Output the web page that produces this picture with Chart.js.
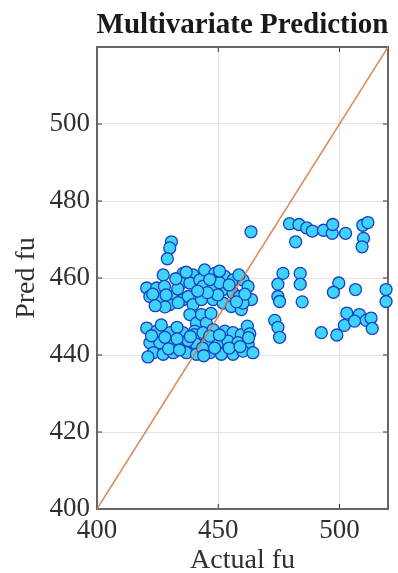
<!DOCTYPE html>
<html>
<head>
<meta charset="utf-8">
<script src="https://cdn.jsdelivr.net/npm/chart.js@4.4.1/dist/chart.umd.min.js"></script>
<style>
  html, body { margin: 0; padding: 0; background: #fff; }
  #wrap { width: 398px; height: 573px; }
</style>
</head>
<body>
<div id="wrap"><canvas id="myChart" width="398" height="573"></canvas></div>
<script>
// actual vs predicted fu
const actualFu = [
  463.5, 479.4, 483.3, 486.5, 488.8, 493.4, 497.0, 497.2, 502.5, 509.6,
  511.7, 509.9, 509.3, 481.9, 476.7, 483.8, 474.6, 483.8, 499.7, 497.5,
  506.6, 519.2, 519.2, 474.6, 475.3, 484.6, 473.3, 474.6, 475.3, 492.5,
  498.9, 503.0, 502.0, 508.2, 511.0, 513.0, 513.5, 506.2,
  430.7, 430.0, 429.0, 427.3, 435.5, 439.6, 420.5, 424.6, 434.8, 438.3,
  442.4, 421.8, 425.9, 430.7, 430.0, 435.5, 437.6, 439.6, 438.3, 441.0,
  440.3, 420.5, 424.6, 430.0, 435.5, 440.3, 421.8, 425.9, 431.4, 436.2,
  441.0, 423.2, 427.3, 431.4, 436.9, 441.0, 444.4, 448.6, 452.7, 456.1,
  460.2, 462.3, 443.7, 447.9, 452.0, 456.1, 458.8, 463.7, 443.1, 447.9,
  452.0, 455.4, 459.5, 460.2, 443.1, 445.1, 443.7, 447.9, 452.7, 456.1,
  459.5, 445.1, 449.9, 454.0, 458.1, 462.3, 446.5, 451.3, 456.1, 460.2,
  464.3, 421.0, 433.3, 427.8, 433.0, 428.0, 447.0, 462.0, 450.5, 437.5,
  463.0,
  432.5, 436.8, 446.5, 450.5, 454.5, 458.5, 461.0, 449.8, 445.5, 423.0,
  428.5, 433.5, 441.5, 457.5, 424.0,
  422.5, 428.0, 433.0, 438.5, 446.5, 450.5, 454.5, 459.0, 429.5, 434.0,
  443.5, 448.5, 426.5, 444.0, 462.5
];
const predFu = [
  472.0, 474.1, 473.9, 473.0, 472.2, 472.4, 471.6, 473.9, 471.6, 473.7,
  474.4, 470.3, 468.1, 469.4, 461.2, 461.2, 458.4, 458.4, 458.7, 456.3,
  457.0, 457.0, 453.9, 455.2, 453.9, 453.8, 449.0, 447.2, 444.6, 445.8,
  445.2, 450.9, 447.7, 450.5, 449.0, 449.6, 446.9, 448.8,
  469.4, 467.8, 465.0, 460.8, 461.2, 460.8, 457.4, 457.4, 458.7, 458.7,
  459.5, 455.2, 454.4, 455.2, 453.1, 454.4, 455.2, 453.1, 450.5, 448.3,
  446.2, 447.0, 446.2, 445.8, 445.8, 445.3, 443.2, 443.2, 442.8, 442.3,
  442.8, 440.6, 440.2, 440.6, 440.6, 440.2, 462.1, 461.2, 460.4, 459.5,
  459.5, 457.8, 457.8, 457.4, 457.0, 456.1, 455.2, 454.4, 454.4, 454.4,
  453.5, 452.6, 451.8, 453.5, 450.5, 448.3, 445.8, 446.6, 446.2, 445.8,
  445.3, 443.2, 443.2, 443.6, 443.2, 442.8, 440.6, 440.2, 440.2, 441.0,
  440.6, 439.5, 457.2, 457.8, 447.2, 452.5, 450.8, 447.5, 458.8, 443.8,
  445.5,
  459.8, 461.5, 459.6, 461.8, 458.2, 460.8, 455.8, 455.6, 456.2, 455.8,
  455.6, 453.6, 456.6, 453.8, 452.8,
  445.0, 444.6, 444.2, 444.8, 444.9, 445.2, 441.8, 442.2, 441.6, 441.3,
  441.8, 441.8, 447.8, 439.8, 444.5
];
const idealLine = [400, 520];
const xTicks = [400, 450, 500];
const yTicks = [400, 420, 440, 460, 480, 500];

const serif = 'Liberation Serif';
const ink = '#303030';

const points = actualFu.map((v, i) => ({ x: v, y: predFu[i] }));

// MATLAB style box, inward ticks and title over the axes
const frame = {
  id: 'frame',
  beforeDatasetsDraw(chart) {
    const { ctx, chartArea: a, scales: { x, y } } = chart;
    ctx.save();
    ctx.strokeStyle = ink;
    ctx.lineWidth = 1;
    ctx.beginPath();
    xTicks.forEach((v) => {
      const px = x.getPixelForValue(v);
      ctx.moveTo(px, a.top); ctx.lineTo(px, a.top + 5);
      ctx.moveTo(px, a.bottom); ctx.lineTo(px, a.bottom - 5);
    });
    yTicks.forEach((v) => {
      const py = y.getPixelForValue(v);
      ctx.moveTo(a.left, py); ctx.lineTo(a.left + 5, py);
      ctx.moveTo(a.right, py); ctx.lineTo(a.right - 5, py);
    });
    ctx.stroke();
    ctx.strokeStyle = '#666';
    ctx.lineWidth = 2;
    ctx.strokeRect(a.left, a.top, a.right - a.left, a.bottom - a.top);

    ctx.fillStyle = '#1a1a1a';
    ctx.font = 'bold 29px ' + serif;
    ctx.textAlign = 'center';
    ctx.textBaseline = 'alphabetic';
    ctx.fillText('Multivariate Prediction', (a.left + a.right) / 2, 33);
    ctx.restore();
  }
};

new Chart(document.getElementById('myChart'), {
  data: {
    datasets: [
      {
        type: 'line',
        data: idealLine.map((v) => ({ x: v, y: v })),
        borderColor: 'rgba(214, 125, 70, 0.9)',
        borderWidth: 1.5,
        pointRadius: 0,
        order: 0,
      },
      {
        type: 'scatter',
        data: points,
        backgroundColor: '#3dd3fb',
        borderColor: '#1a3fc2',
        borderWidth: 1.3,
        pointRadius: 6,
        clip: false,
        order: 1,
      },
    ],
  },
  options: {
    responsive: false,
    animation: false,
    devicePixelRatio: 1,
    layout: { padding: { top: 47, right: 10, left: 0, bottom: 0 } },
    plugins: {
      legend: { display: false },
      tooltip: { enabled: false },
    },
    scales: {
      x: {
        type: 'linear',
        min: 400,
        max: 520,
        afterBuildTicks: (s) => { s.ticks = xTicks.map((v) => ({ value: v })); },
        afterFit: (s) => { s.height = 64; },
        ticks: { font: { family: serif, size: 27 }, color: ink, padding: 6, maxRotation: 0 },
        grid: { color: '#e3e3e3', drawTicks: false },
        border: { display: false },
        title: {
          display: true,
          text: 'Actual fu',
          color: ink,
          font: { family: serif, size: 28, lineHeight: 0.85 },
          padding: 0,
        },
      },
      y: {
        type: 'linear',
        min: 400,
        max: 520,
        afterBuildTicks: (s) => { s.ticks = yTicks.map((v) => ({ value: v })); },
        afterFit: (s) => { s.width = 97; },
        ticks: { font: { family: serif, size: 27 }, color: ink, padding: 7 },
        grid: { color: '#e3e3e3', drawTicks: false },
        border: { display: false },
        title: {
          display: true,
          text: 'Pred fu',
          color: ink,
          font: { family: serif, size: 28, lineHeight: 1 },
          padding: { top: 13 },
        },
      },
    },
  },
  plugins: [frame],
});
</script>
</body>
</html>
